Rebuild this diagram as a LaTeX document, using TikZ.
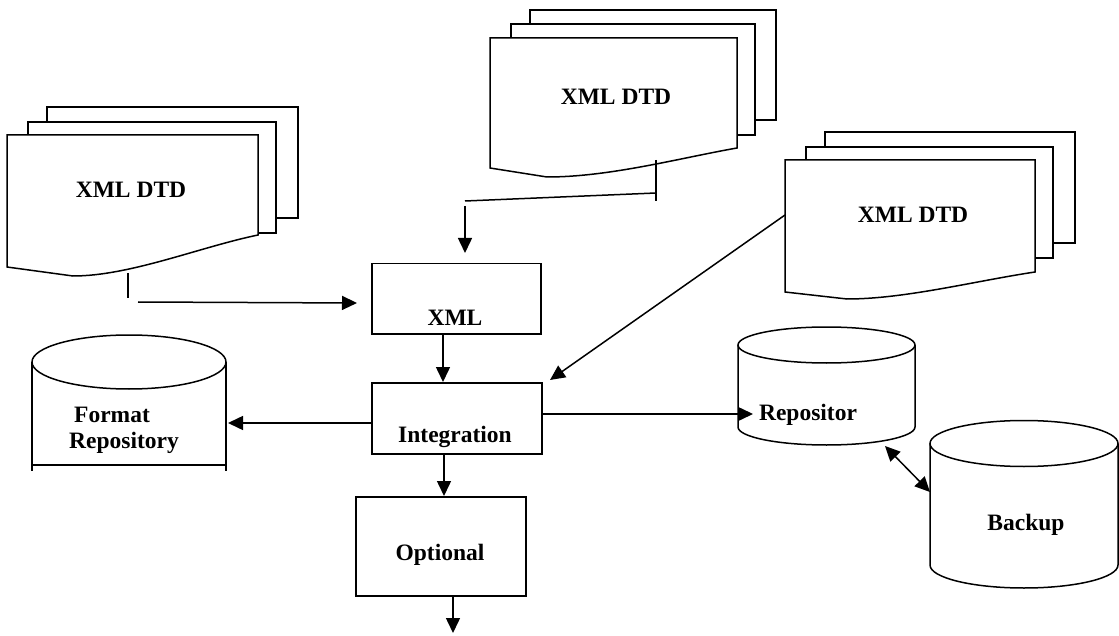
\documentclass[tikz,border=0pt]{standalone}
\usepackage{fontspec}
\setmainfont{Liberation Serif}
\usetikzlibrary{arrows.meta}
\begin{document}
\begin{tikzpicture}[x=1pt,y=-1pt,line width=1.5pt,
  tip/.style={-{Triangle[length=15pt,width=14pt]}},
  dtip/.style={{Triangle[length=15pt,width=14pt]}-{Triangle[length=15pt,width=14pt]}},
  lbl/.style={font=\fontsize{23.5}{26}\selectfont\bfseries,inner sep=0pt},
  page/.style={draw,fill=white,line join=miter},
  procbox/.style={draw,fill=white,anchor=north west,inner sep=0pt}]
\useasboundingbox (0,0) rectangle (1119,636);

% ---------- left document stack ----------
\draw[page] (47,107) rectangle (298,218);
\draw[page] (28,122) rectangle (276,233);
\draw[page] (7,135) -- (258,135) -- (258,235)
  .. controls (200,247) and (130,276) .. (73,276) -- (7,267) -- cycle;
\node[lbl] (ldoc) at (131,190) {XML DTD};

% ---------- top document stack ----------
\draw[page] (530,10) rectangle (776,120);
\draw[page] (511,24) rectangle (755,135);
\draw[page] (490,38) -- (737,38) -- (737,148)
  .. controls (680,158) and (610,177) .. (547,177) -- (490,168) -- cycle;
\node[lbl] (tdoc) at (616,97) {XML DTD};

% ---------- right document stack ----------
\draw[page] (825,132) rectangle (1075,243);
\draw[page] (806,147) rectangle (1053,258);
\draw[page] (785,160) -- (1035,160) -- (1035,272)
  .. controls (975,281) and (905,299) .. (847,299) -- (785,292) -- cycle;
\node[lbl] (rdoc) at (913,215) {XML DTD};

% ---------- process boxes ----------
\node[procbox,minimum width=169pt,minimum height=70pt] (xmlbox) at (371,263) {};
\node[lbl] (xmltxt) at (455,318) {XML};
\node[procbox,minimum width=170pt,minimum height=71pt] (integ) at (371,382) {};
\node[lbl] (integtxt) at (455,437) {Integration};
\node[procbox,minimum width=170pt,minimum height=99pt] (opt) at (355,496) {};
\node[lbl] (opttxt) at (440,555) {Optional};

% ---------- Format Repository cylinder ----------
\draw (32,362) -- (32,471);
\draw (226,362) -- (226,471);
\draw (32,465) -- (226,465);
\draw[fill=white] (129,362) ellipse[x radius=97pt,y radius=27pt];
\node[lbl,align=left] (fmt) at (124,430) {\hspace{5pt}Format\\Repository};

% ---------- Repository cylinder ----------
\draw[fill=white] (738,345) -- (738,427) arc[start angle=180,end angle=360,x radius=88.5pt,y radius=18pt] -- (915,345);
\draw[fill=white] (826.5,345) ellipse[x radius=88.5pt,y radius=18pt];
\node[lbl] (repo) at (808,415) {Repositor};

% ---------- Backup cylinder ----------
\draw[fill=white] (930,443.5) -- (930,565) arc[start angle=180,end angle=360,x radius=94pt,y radius=23pt] -- (1118,443.5);
\draw[fill=white] (1024,443.5) ellipse[x radius=94pt,y radius=23pt];
\node[lbl] (backup) at (1026,525) {Backup};

% ---------- connector coordinates ----------
\coordinate (l1) at (128,273);
\coordinate (l2) at (128,298);
\coordinate (l3) at (138,302);
\coordinate (l4) at (357,303);
\coordinate (t1) at (656,160);
\coordinate (t2) at (656,201);
\coordinate (t3) at (656,193);
\coordinate (t4) at (465,201);
\coordinate (t5) at (465,206);
\coordinate (t6) at (465,253);
\coordinate (r1) at (785,215);
\coordinate (r2) at (550,380);
\coordinate (f1) at (228,423);
\coordinate (p1) at (753,414);
\coordinate (b1) at (885,446);
\coordinate (b2) at (930,492);
\coordinate (o1) at (453,633);

% ---------- connectors ----------
\draw (l1) -- (l2);
\draw[tip] (l3) -- (l4);
\draw (t1) -- (t2);
\draw (t3) -- (t4);
\draw[tip] (t5) -- (t6);
\draw[tip] (xmlbox.south -| 443,0) -- (integ.north -| 443,0);
\draw[tip] (r1) -- (r2);
\draw[tip] (integ.west |- 0,423) -- (f1);
\draw[tip] (integ.east |- 0,414) -- (p1);
\draw[dtip] (b1) -- (b2);
\draw[tip] (integ.south -| 444,0) -- (opt.north -| 444,0);
\draw[tip] (opt.south -| 453,0) -- (o1);
\end{tikzpicture}
\end{document}
